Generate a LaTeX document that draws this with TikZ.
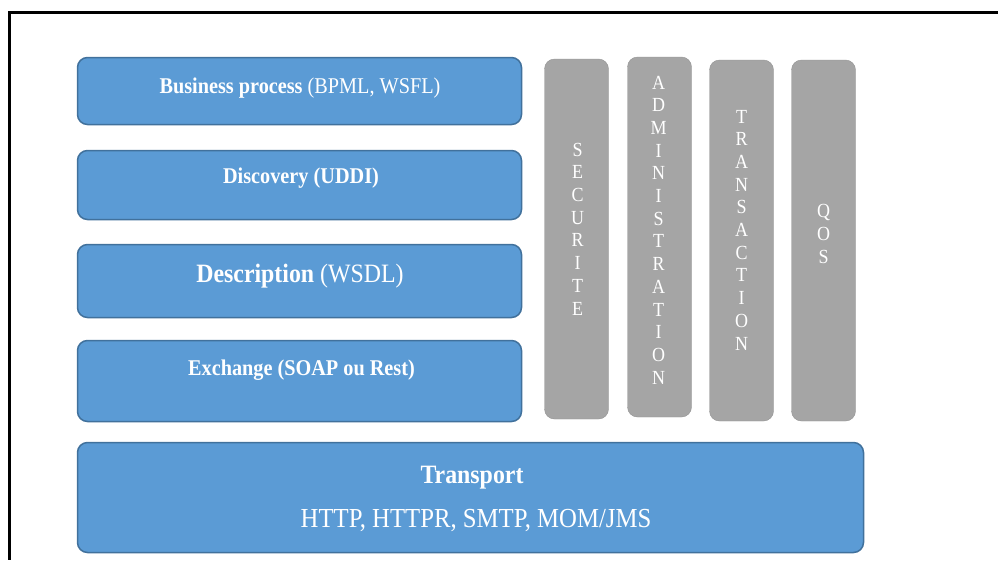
\documentclass[tikz,border=0pt]{standalone}
\usepackage{fontspec}
\setmainfont{Liberation Serif}[FakeStretch=0.9]
\usepackage{xcolor}
\usetikzlibrary{positioning}
\definecolor{layerblue}{HTML}{5B9BD5}
\definecolor{layeredge}{HTML}{41719C}
\definecolor{bargray}{HTML}{A5A5A5}

\begin{document}
\begin{tikzpicture}[x=1pt,y=-1pt,
	layer/.style={draw=layeredge, line width=1.5pt, fill=layerblue, rounded corners=10pt, inner sep=0pt, minimum width=444pt},
	bar/.style={draw=bargray!90!black, line width=0.4pt, fill=bargray, rounded corners=10pt, inner sep=0pt, minimum width=64pt},
	layertxt/.style={text=white, anchor=base, inner sep=0pt, font=\fontsize{22.5}{27}\selectfont},
	bigtxt/.style={layertxt, font=\fontsize{26.5}{31}\selectfont},
	bartxt/.style={text=white, align=center, inner sep=0pt, font=\fontsize{20}{22.7}\selectfont}]
		\fill[white] (0,0) rectangle (998,560);
		\useasboundingbox (0,0) rectangle (998,560);
		\draw[line width=2.5pt] (998,12.5) -- (9.5,12.5) -- (9.5,560);

		\node[layer, minimum height=67pt] (bp) at (299.5,91) {};
		\node[layer, minimum height=69pt] (disc) at (299.5,185) {};
		\node[layer, minimum height=73pt] (desc) at (299.5,281) {};
		\node[layer, minimum height=81pt] (exch) at (299.5,381) {};
		\node[layer, minimum height=110pt, minimum width=786pt] (trans) at (470.5,497.5) {};

		\node[layertxt] (bp-txt) at (300,93) {\textbf{Business process} (BPML, WSFL)};
		\node[layertxt] (disc-txt) at (301,183) {\textbf{Discovery (UDDI)}};
		\node[bigtxt] (desc-txt) at (300,282) {\textbf{Description} (WSDL)};
		\node[layertxt] (exch-txt) at (301.5,375) {\textbf{Exchange (SOAP ou Rest)}};
		\node[bigtxt] (trans-txt) at (472,483) {\textbf{Transport}};
		\node[bigtxt, font=\fontsize{27.5}{32}\selectfont] (proto-txt) at (476,527) {HTTP, HTTPR, SMTP, MOM/JMS};

		\node[bar, minimum height=360pt] (secu) at (576.5,239) {};
		\node[bar, minimum height=360pt] (admin) at (659.5,237) {};
		\node[bar, minimum height=361pt] (trx) at (741.5,240.5) {};
		\node[bar, minimum height=361pt] (qos) at (823.5,240.5) {};

		\node[bartxt] (secu-txt) at (577.5,229) {S\\E\\C\\U\\R\\I\\T\\E};
		\node[bartxt] (admin-txt) at (658.5,230) {A\\D\\M\\I\\N\\I\\S\\T\\R\\A\\T\\I\\O\\N};
		\node[bartxt] (trx-txt) at (741.5,230) {T\\R\\A\\N\\S\\A\\C\\T\\I\\O\\N};
		\node[bartxt] (qos-txt) at (823.5,234) {Q\\O\\S};
	\end{tikzpicture}
\end{document}
